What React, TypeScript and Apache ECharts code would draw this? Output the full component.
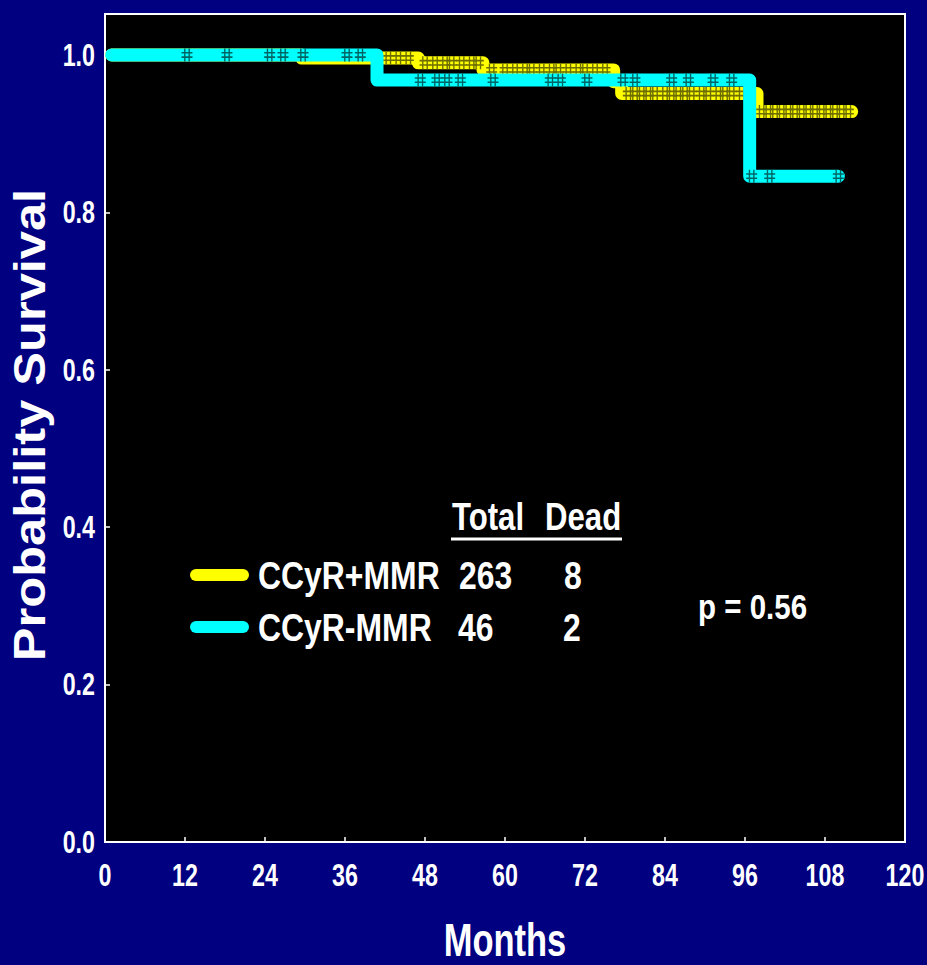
import React, { useEffect, useRef } from "react";
import * as echarts from "echarts";

// Kaplan–Meier step points [month, survival]
const yellowSteps: [number, number][] = [
  [1, 1.0], [29.5, 0.996], [47, 0.99], [56.7, 0.981], [76.3, 0.966], [77.5, 0.951], [97.8, 0.928], [112, 0.928],
];
const cyanSteps: [number, number][] = [
  [1, 1.0], [40.8, 0.968], [96.7, 0.846], [110, 0.846],
];

// Censored observations [month, survival]
const yellowCensored: [number, number][] = [
  [41, 0.996], [42.5, 0.996], [44, 0.996], [45.5, 0.996],
  [48, 0.99], [49.5, 0.99], [51, 0.99], [52, 0.99], [53.5, 0.99], [55, 0.99], [56, 0.99],
  [58, 0.981], [60, 0.981], [61.5, 0.981], [63, 0.981], [64, 0.981], [65.5, 0.981], [67, 0.981],
  [68, 0.981], [69.5, 0.981], [71, 0.981], [72, 0.981], [73.5, 0.981], [75, 0.981],
  [78.5, 0.951], [79.5, 0.951], [80.5, 0.951], [81.5, 0.951], [82.5, 0.951], [84, 0.951], [85, 0.951],
  [86, 0.951], [87, 0.951], [88, 0.951], [89.5, 0.951], [90.5, 0.951], [92, 0.951], [93, 0.951],
  [94, 0.951], [95.5, 0.951], [96.5, 0.951],
  [98.5, 0.928], [99.5, 0.928], [100.5, 0.928], [101.5, 0.928], [102.5, 0.928], [103.5, 0.928],
  [104.5, 0.928], [105.5, 0.928], [106.5, 0.928], [107.5, 0.928], [108.5, 0.928], [109.5, 0.928],
  [110.5, 0.928], [111.5, 0.928],
];
const cyanCensored: [number, number][] = [
  [12.3, 1.0], [18.3, 1.0], [24.7, 1.0], [26.7, 1.0], [29.7, 1.0], [36.3, 1.0], [38.3, 1.0],
  [47.3, 0.968], [49.8, 0.968], [51.3, 0.968], [53.3, 0.968], [58.2, 0.968], [66.8, 0.968],
  [68.3, 0.968], [72.3, 0.968], [77.7, 0.968], [79.5, 0.968], [85, 0.968], [87.5, 0.968],
  [91.2, 0.968], [94, 0.968],
  [97, 0.846], [99.7, 0.846], [110, 0.846],
];

const groupNames = ["CCyR+MMR", "CCyR-MMR"];
const totals = [263, 46];
const deaths = [8, 2];
const pValueText = "p = 0.56";

const xTicks = [0, 12, 24, 36, 48, 60, 72, 84, 96, 108, 120];
const yTicks = [0, 0.2, 0.4, 0.6, 0.8, 1.0];

const FONT = "'Liberation Sans', Arial, sans-serif";
const CENSOR = "path://M3,0V12M7,0V12M0,4H10M0,8H10";

export default function App() {
  const ref = useRef<HTMLDivElement>(null);
  useEffect(() => {
    if (!ref.current) return;
    const chart = echarts.init(ref.current, undefined, { renderer: "svg" });
    const txt = (x: number, y: number, text: string, size: number, sx: number, extra: any = {}) => ({
      type: "text",
      x,
      y,
      scaleX: sx,
      style: {
        text,
        fill: "#fff",
        fontSize: size,
        fontWeight: "bold",
        fontFamily: FONT,
        verticalAlign: "middle",
        align: "left",
        ...extra,
      },
    });
    const censorSeries = (data: [number, number][], color: string, z: number) => ({
      type: "scatter",
      data,
      z,
      symbol: CENSOR,
      symbolSize: [11, 13],
      clip: false,
      itemStyle: { color: "none", borderColor: color, borderWidth: 1.5, opacity: 1 },
    });
    chart.setOption({
      animation: false,
      backgroundColor: "#000080",
      grid: {
        left: 105,
        right: 22,
        top: 14,
        bottom: 123,
        show: true,
        backgroundColor: "#000",
        borderColor: "#fff",
        borderWidth: 2,
      },
      xAxis: {
        type: "value",
        min: 0,
        max: 120,
        interval: 12,
        axisLine: { show: true, lineStyle: { color: "#fff", width: 2 } },
        axisTick: { show: true, inside: true, length: 5, lineStyle: { color: "#fff", width: 1.5 } },
        axisLabel: { show: false },
        splitLine: { show: false },
      },
      yAxis: {
        type: "value",
        min: 0,
        max: 1.052,
        interval: 0.2,
        axisLine: { show: true, lineStyle: { color: "#fff", width: 2 } },
        axisTick: { show: true, inside: true, length: 5, lineStyle: { color: "#fff", width: 1.5 } },
        axisLabel: { show: false },
        splitLine: { show: false },
      },
      series: [
        {
          name: groupNames[0],
          type: "line",
          step: "end",
          z: 2,
          data: yellowSteps,
          showSymbol: false,
          clip: false,
          lineStyle: { color: "#ffff00", width: 13, cap: "round", join: "round" },
        },
        censorSeries(yellowCensored, "#6e6e00", 3),
        {
          name: groupNames[1],
          type: "line",
          step: "end",
          z: 4,
          data: cyanSteps,
          showSymbol: false,
          clip: false,
          lineStyle: { color: "#00ffff", width: 13, cap: "round", join: "round" },
        },
        censorSeries(cyanCensored, "#006464", 5),
      ],
    });

    // tick labels placed through the chart's own scales
    const toPx = (p: [number, number]) => chart.convertToPixel({ gridIndex: 0 }, p) as number[];
    const labels: any[] = [];
    xTicks.forEach((v) => {
      const [px, py] = toPx([v, 0]);
      labels.push(txt(px, py + 33, String(v), 31, 0.75, { align: "center" }));
    });
    yTicks.forEach((v) => {
      const [px, py] = toPx([0, v]);
      labels.push(txt(px - 10, py, v.toFixed(1), 31, 0.75, { align: "right" }));
    });
    const [cx] = toPx([60, 0]);

    chart.setOption({
      graphic: [
        ...labels,
        txt(cx, 940, "Months", 46, 0.75, { align: "center" }),
        {
          type: "text",
          x: 30,
          y: 425,
          rotation: Math.PI / 2,
          scaleX: 1.15,
          style: {
            text: "Probability Survival",
            fill: "#fff",
            fontSize: 44,
            fontWeight: "bold",
            fontFamily: FONT,
            align: "center",
            verticalAlign: "middle",
          },
        },
        txt(452, 517, "Total", 38, 0.82),
        txt(545, 517, "Dead", 38, 0.82),
        { type: "line", shape: { x1: 451, y1: 539, x2: 622, y2: 539 }, style: { stroke: "#fff", lineWidth: 3 } },
        { type: "line", shape: { x1: 196, y1: 575, x2: 243, y2: 575 }, style: { stroke: "#ffff00", lineWidth: 12, lineCap: "round" } },
        { type: "line", shape: { x1: 196, y1: 627, x2: 243, y2: 627 }, style: { stroke: "#00ffff", lineWidth: 12, lineCap: "round" } },
        txt(258, 575, groupNames[0], 38, 0.84),
        txt(258, 627, groupNames[1], 38, 0.84),
        txt(459, 575, String(totals[0]), 38, 0.84),
        txt(458, 627, String(totals[1]), 38, 0.84),
        txt(564, 575, String(deaths[0]), 38, 0.84),
        txt(563, 627, String(deaths[1]), 38, 0.84),
        txt(698, 606, pValueText, 36, 0.82),
      ],
    });
    return () => chart.dispose();
  }, []);
  return <div ref={ref} style={{ position: "absolute", left: 0, top: 0, width: 927, height: 965 }} />;
}
